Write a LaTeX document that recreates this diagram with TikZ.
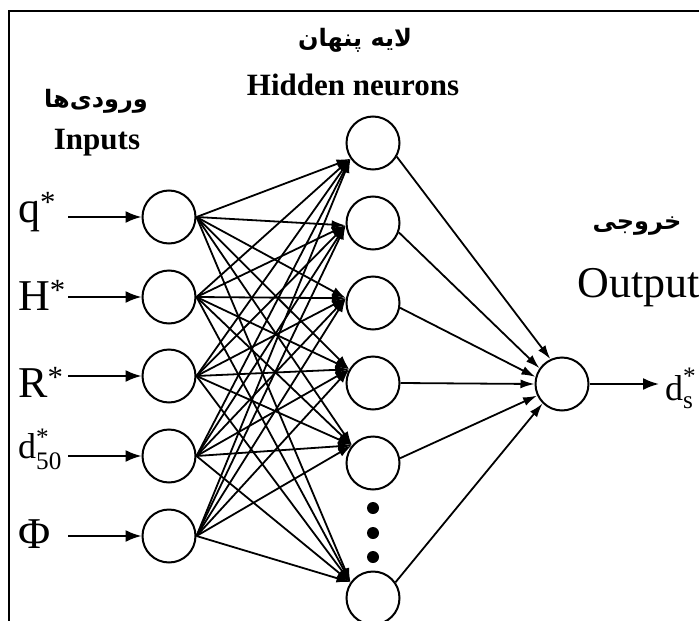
\documentclass[tikz,border=0pt]{standalone}
\usepackage{fontspec}
\setmainfont{Liberation Serif}
\newfontfamily\farsifont[Script=Arabic]{DejaVu Sans}
\TeXXeTstate=1
\usetikzlibrary{arrows.meta, positioning}

\begin{document}
\begin{tikzpicture}[x=1pt, y=-1pt,
  neuron/.style={draw, circle, line width=2pt, minimum size=53pt, inner sep=0pt},
  link/.style={-{Latex[length=14pt,width=9pt]}, line width=1.8pt},
  inlink/.style={-{Latex[length=16pt,width=12pt]}, line width=2pt},
  varlab/.style={font=\fontsize{44}{44}\selectfont, inner sep=0pt},
  enlab/.style={font=\fontsize{31}{31}\selectfont\bfseries, inner sep=0pt},
  falab/.style={font=\fontsize{24}{24}\selectfont\farsifont\bfseries, inner sep=0pt}]

  \useasboundingbox (0,0) rectangle (699,621);
  \draw[line width=2.5pt] (9,621) -- (9,11) -- (699,11);

  % ---------- titles ----------
  \node[falab] (tfahid) at (355,40) {\beginR لایه پنهان\endR};
  \node[enlab] (tenhid) at (353,85) {Hidden neurons};
  \node[falab] (tfain) at (96,101) {\beginR ورودی^^^^200cها\endR};
  \node[enlab] (tenin) at (97,143) {Inputs};
  \node[falab] (tfaout) at (637,226) {\beginR خروجی\endR};
  \node[varlab, anchor=base] (tenout) at (639,297) {Output};

  % ---------- neurons ----------
  \foreach \i/\y in {1/217, 2/297, 3/376, 4/456, 5/536}
    \node[neuron] (in\i) at (169,\y) {};
  \foreach \j/\y in {1/143, 2/223, 3/303, 4/383, 5/463, 6/598}
    \node[neuron] (hid\j) at (373,\y) {};
  \node[neuron] (out) at (562,384) {};
  \foreach \y in {508, 533, 557}
    \fill (373,\y) circle[radius=6pt];

  % ---------- inputs ----------
  \foreach \i/\b/\lab in {1/222/{q\textsuperscript{*}}, 2/310/{H\textsuperscript{*}},
                          3/397/{R\textsuperscript{*}},
                          4/458/{\fontsize{36}{36}\selectfont d\rlap{\raisebox{3pt}{\textsuperscript{*}}}\raisebox{-3pt}{\textsubscript{50}}},
                          5/548/{Φ}} {
    \node[varlab, anchor=base west, text width=50pt] (lab\i) at (18,\b) {\lab};
    \draw[inlink] (lab\i.east |- in\i) -- (in\i);
  }

  % ---------- input -> hidden ----------
  \foreach \j/\a in {1/215, 2/185, 3/170, 4/150, 5/140, 6/145}
    \foreach \i in {1,...,5}
      \draw[link] (in\i.east) -- (hid\j.\a);

  % ---------- hidden -> output ----------
  \foreach \j/\s/\t in {1/-30/115, 2/-20/145, 3/-10/165, 4/0/180, 5/10/205, 6/35/225}
    \draw[link] (hid\j.\s) -- (out.\t);

  \node[varlab, font=\fontsize{36}{36}\selectfont, anchor=base west] (ds) at (665,400)
    {d\rlap{\raisebox{6pt}{\textsuperscript{*}}}\raisebox{-5pt}{\textsubscript{s}}};
  \draw[inlink, shorten >=6pt] (out) -- (ds.west |- out);

\end{tikzpicture}
\end{document}
